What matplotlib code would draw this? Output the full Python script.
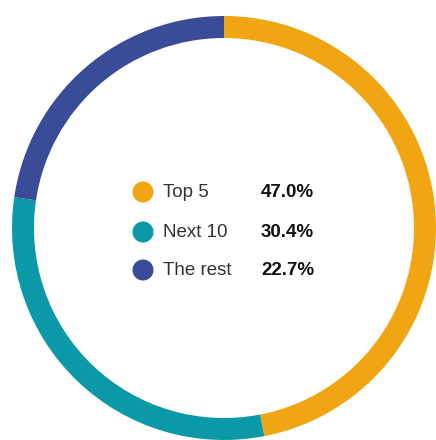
import matplotlib.pyplot as plt
from matplotlib.patches import Circle

labels = ["Top 5", "Next 10", "The rest"]
shares = [47.0, 30.4, 22.7]
colors = ["#F1A512", "#0B99A7", "#3A4B97"]

plt.rcParams['font.family'] = ['Liberation Sans', 'DejaVu Sans']

fig = plt.figure(figsize=(4.36, 4.40), dpi=100)
ax = fig.add_axes([0, 0, 1, 1])

# thin ring, clockwise from 12 o'clock
ax.pie(shares, colors=colors, startangle=90, counterclock=False,
       center=(224, 212), radius=212,
       wedgeprops=dict(width=22, edgecolor='none'), frame=True)
ax.set_xlim(0, 436)
ax.set_ylim(0, 440)
ax.set_aspect('equal')
ax.axis('off')

# legend in the middle of the ring
rows_y = [248, 208, 170]
for lab, val, col, y in zip(labels, shares, colors, rows_y):
    ax.add_patch(Circle((143, y), 10.5, color=col, lw=0))
    ax.text(163, y, lab, fontsize=13.5, color='#333333', va='center', ha='left')
    ax.text(314, y, f"{val:.1f}%", fontsize=13.5, fontweight='bold',
            color='#111111', va='center', ha='right')

fig.savefig("out.png", dpi=100)
